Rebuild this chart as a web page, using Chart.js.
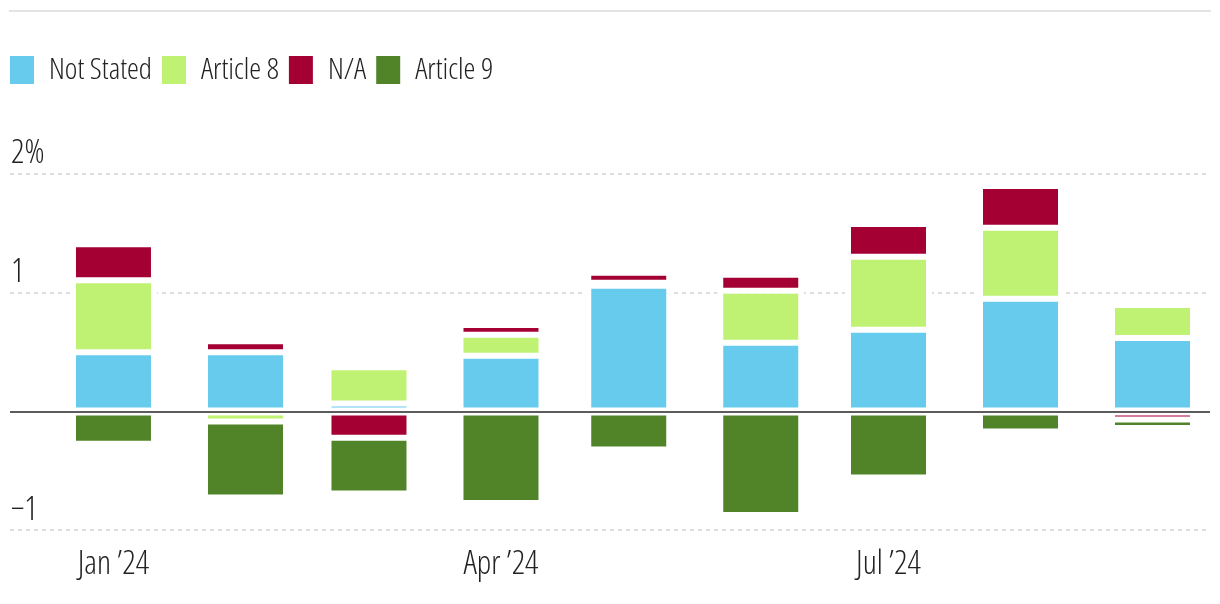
<!DOCTYPE html>
<html>
<head>
<meta charset="utf-8">
<script src="https://cdn.jsdelivr.net/npm/chart.js@4.4.1/dist/chart.umd.min.js"></script>
<style>
  html, body { margin: 0; padding: 0; background: #fff; }
  #wrap { width: 1220px; height: 604px; }
</style>
</head>
<body>
<div id="wrap"><canvas id="chart"></canvas></div>
<script>
// monthly flows, % of assets
var months = ['2024-01-01', '2024-02-01', '2024-03-01', '2024-04-01', '2024-05-01',
              '2024-06-01', '2024-07-01', '2024-08-01', '2024-09-01'];
var notStated = [0.50, 0.50, 0.068, 0.47, 1.06, 0.58, 0.69, 0.95, 0.62];
var article8  = [0.605, -0.084, 0.305, 0.176, 0.025, 0.437, 0.613, 0.597, 0.277];
var na        = [0.303, 0.092, -0.22, 0.084, 0.084, 0.134, 0.277, 0.353, -0.066];
var article9  = [-0.27, -0.64, -0.47, -0.77, -0.32, -0.87, -0.555, -0.168, -0.072];

var yTicks = [-1, 0, 1, 2];
var yTickLabels = ['\u22121', '', '1', '2%'];
var xTickMonths = [0, 3, 6];
var xTickLabels = ['Jan \u201924', 'Apr \u201924', 'Jul \u201924'];

// position months on a day axis (months are not equally long)
var day0 = Date.parse(months[0]);
var days = months.map(function (m) { return (Date.parse(m) - day0) / 86400000; });

Chart.defaults.font.family = '"Open Sans", sans-serif';
Chart.defaults.font.weight = '300 condensed'; // ends up in the canvas font string -> Open Sans Condensed Light
Chart.defaults.font.size = 30;
Chart.defaults.color = '#222';

function series(label, values, color) {
    return {
        label: label,
        data: values.map(function (v, i) { return { x: days[i], y: v }; }),
        backgroundColor: color,
        borderColor: '#fff',
        borderWidth: { top: 3, bottom: 3, left: 6, right: 6 },
        borderSkipped: false,
        inflateAmount: 0,
        barThickness: 87
    };
}

var guides = {
    id: 'guides',
    beforeLayout: function (chart) {
        var lg = chart.legend;
        if (lg && !lg._tall) {
            var fit = lg.fit;
            lg.fit = function () {
                fit.call(this);
                this.height += 79;
            };
            lg._tall = true;
        }
    },
    beforeDraw: function (chart) {
        var ctx = chart.ctx;
        ctx.save();
        ctx.strokeStyle = '#e4e4e4';
        ctx.lineWidth = 2;
        ctx.beginPath();
        ctx.moveTo(9, 11);
        ctx.lineTo(1211, 11);
        ctx.stroke();
        ctx.restore();
    },
    afterDatasetsDraw: function (chart) {
        var ctx = chart.ctx, area = chart.chartArea;
        var y0 = Math.round(chart.scales.y.getPixelForValue(0));
        ctx.save();
        ctx.strokeStyle = '#5c5c5c';
        ctx.lineWidth = 2;
        ctx.beginPath();
        ctx.moveTo(area.left, y0);
        ctx.lineTo(area.right, y0);
        ctx.stroke();
        ctx.restore();
    }
};

new Chart(document.getElementById('chart'), {
    type: 'bar',
    data: {
        datasets: [
            series('Not Stated', notStated, '#67cbed'),
            series('Article 8', article8, '#bff273'),
            series('N/A', na, '#a40034'),
            series('Article 9', article9, '#518329')
        ]
    },
    plugins: [guides],
    options: {
        responsive: true,
        maintainAspectRatio: false,
        animation: false,
        layout: { padding: { top: 45, left: 0, right: 10, bottom: 14 } },
        plugins: {
            tooltip: { enabled: false },
            legend: {
                position: 'top',
                align: 'start',
                labels: {
                    boxWidth: 24,
                    boxHeight: 28,
                    padding: 10,
                    font: { size: 30 },
                    generateLabels: function (chart) {
                        return Chart.defaults.plugins.legend.labels.generateLabels(chart).map(function (l) {
                            l.lineWidth = 0;
                            return l;
                        });
                    }
                }
            }
        },
        scales: {
            x: {
                type: 'linear',
                min: -24.3,
                max: 257.5,
                offset: false,
                stacked: true,
                grid: { display: false, offset: false },
                border: { display: false },
                afterBuildTicks: function (axis) {
                    axis.ticks = xTickMonths.map(function (i) { return { value: days[i] }; });
                },
                ticks: {
                    autoSkip: false,
                    maxRotation: 0,
                    padding: 6,
                    font: { size: 33 },
                    callback: function (v, i) { return xTickLabels[i]; }
                }
            },
            y: {
                min: -1,
                max: 2,
                stacked: true,
                afterBuildTicks: function (axis) {
                    axis.ticks = yTicks.map(function (v) { return { value: v }; });
                },
                afterFit: function (axis) { axis.width = 10; },
                grid: {
                    color: function (c) { return c.tick && c.tick.value === 0 ? 'rgba(0,0,0,0)' : '#dedede'; },
                    lineWidth: 2,
                    drawTicks: false
                },
                border: { display: false, dash: [4, 4] },
                ticks: {
                    mirror: true,
                    padding: 1,
                    labelOffset: -20,
                    font: { size: 33 },
                    callback: function (v, i) { return yTickLabels[i]; }
                }
            }
        }
    }
});
</script>
</body>
</html>
